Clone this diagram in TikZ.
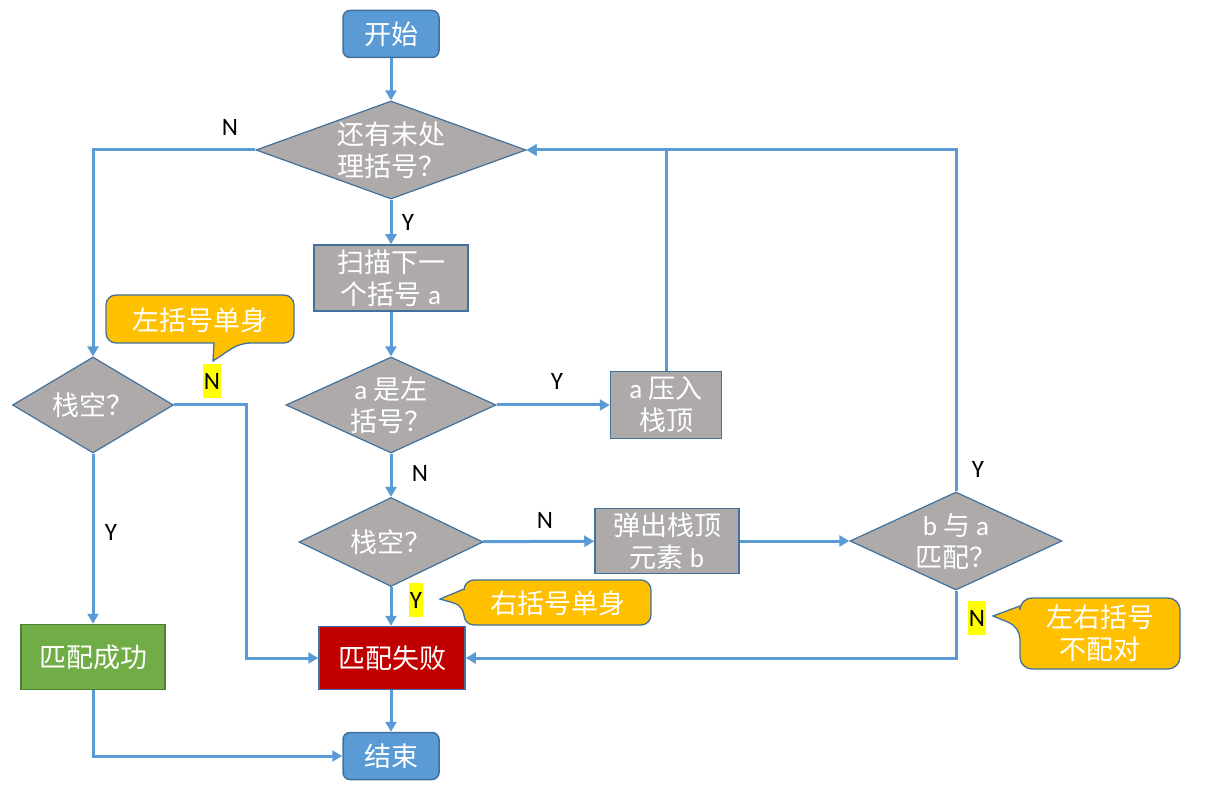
\documentclass[tikz,border=0pt]{standalone}
\usepackage{fontspec}
\setmainfont{Carlito}
\newfontfamily\cjk{Noto Sans CJK SC}
\usetikzlibrary{shapes.geometric,arrows.meta,calc}
\definecolor{lineblue}{HTML}{5B9BD5}
\definecolor{bord}{HTML}{41719C}
\definecolor{gfill}{HTML}{AEAAAA}
\definecolor{rfill}{HTML}{C00000}
\definecolor{grfill}{HTML}{70AD47}
\definecolor{grbord}{HTML}{507E32}
\definecolor{ofill}{HTML}{FFC000}
\definecolor{hl}{HTML}{FFFF00}
\begin{document}
\begin{tikzpicture}[x=1pt,y=-1pt,
  every node/.style={font=\fontsize{27}{32}\selectfont},
  proc/.style={draw=bord,line width=1.5pt,fill=gfill,text=white,inner sep=0pt,align=center},
  term/.style={draw=bord,line width=1.5pt,fill=lineblue,text=white,rounded corners=7pt,inner sep=0pt,minimum width=96pt,minimum height=47pt},
  dec/.style={draw=bord,line width=1.2pt,fill=gfill,diamond,inner sep=0pt},
  dtext/.style={text=white,align=center,inner sep=0pt},
  lab/.style={font=\fontsize{25}{27}\selectfont,inner sep=1pt},
  hlab/.style={font=\fontsize{25}{27}\selectfont,fill=hl,inner xsep=1pt,inner ysep=0pt,minimum height=34pt},
  callout/.style={draw=bord,line width=1.3pt,fill=ofill},
  ctext/.style={text=white,align=center,inner sep=0pt},
  arr/.style={draw=lineblue,line width=3pt,-{Triangle[length=10pt,width=11pt]}},
  ln/.style={draw=lineblue,line width=3pt}
]
\useasboundingbox (0,0) rectangle (1219,802);
% nodes
\node[term] (start) at (391,34) {\cjk 开始};
\node[dec,minimum width=270pt,minimum height=98pt] (d1) at (391,150) {};
\node[dtext] at (391,150) {\cjk 还有未处\\\cjk 理括号？};
\node[proc,minimum width=154pt,minimum height=66pt] (scan) at (391,278) {{\cjk 扫描下一}\\{\cjk 个括号} a};
\node[dec,minimum width=210pt,minimum height=96pt] (d2) at (391,405) {};
\node[dtext] at (391,405) {a {\cjk 是左}\\\cjk 括号？};
\node[proc,minimum width=111pt,minimum height=67pt] (push) at (666,405) {a {\cjk 压入}\\\cjk 栈顶};
\node[dec,minimum width=184pt,minimum height=89pt] (d3) at (391,542) {};
\node[dtext] at (391,542) {\cjk 栈空？};
\node[proc,minimum width=144pt,minimum height=65pt] (pop) at (667,541) {{\cjk 弹出栈顶}\\{\cjk 元素} b};
\node[dec,minimum width=212pt,minimum height=98pt] (d4) at (956,541) {};
\node[dtext] at (956,541) {b {\cjk 与} a\\\cjk 匹配？};
\node[dec,minimum width=161pt,minimum height=96pt] (ld) at (93,405) {};
\node[dtext] at (93,405) {\cjk 栈空？};
\node[proc,fill=rfill,minimum width=146pt,minimum height=63pt] (fail) at (392,658) {\cjk 匹配失败};
\node[proc,fill=grfill,draw=grbord,minimum width=144pt,minimum height=65pt] (succ) at (93,657) {\cjk 匹配成功};
\node[term] (end) at (391,756) {\cjk 结束};
% coordinates
\coordinate (c1) at (246,405);
% connectors
\draw[arr] (start) -- (d1);
\draw[arr] (d1) -- (scan);
\draw[arr] (scan) -- (d2);
\draw[arr] (d2) -- (push);
\draw[arr] (d2) -- (d3);
\draw[arr] (d3) -- (pop);
\draw[arr] (pop) -- (d4);
\draw[arr] (d3) -- (d3 |- fail.north);
\draw[arr] (fail.south -| end.north) -- (end);
\draw[arr] (push.north) |- (d1.east);
\draw[arr] (d4.north) |- (d1.east);
\draw[arr] (d4.south) |- (fail.east);
\draw[arr] (d1.west) -| (ld.north);
\draw[arr] (ld) -- (succ);
\draw[arr] (ld.east) -- (c1) |- (fail.west);
\draw[arr] (succ.south) |- (end.west);
% labels
\node[lab] (n1) at (230,127) {N};
\node[lab] (y1) at (408,222) {Y};
\node[lab] (y2) at (557,381) {Y};
\node[lab] (n2) at (420,473) {N};
\node[lab] (n3) at (545,520) {N};
\node[lab] (y3) at (978,469) {Y};
\node[lab] (y4) at (111,532) {Y};
\node[hlab] (n4) at (212,381) {N};
\node[hlab] (y5) at (416,600) {Y};
\node[hlab] (n5) at (977,618) {N};
% callouts
\path[callout] (200,295) [rounded corners=10pt] -- (294,295) -- (294,343) -- (240,343) [sharp corners] -- (213,361) -- (214,343) [rounded corners=10pt] -- (106,343) -- (106,295) -- cycle;
\node[ctext] (c1t) at (200,320) {\cjk 左括号单身};
\path[callout] (560,580) [rounded corners=10pt] -- (651,580) -- (651,625) -- (464,625) -- (464,606) [sharp corners] -- (440,599) -- (464,589) [rounded corners=10pt] -- (464,580) -- cycle;
\node[ctext] (c2t) at (558,603) {\cjk 右括号单身};
\path[callout] (1100,598) [rounded corners=12pt] -- (1180,598) -- (1180,669) -- (1020,669) -- (1020,627) [sharp corners] -- (993,616) -- (1020,606) [rounded corners=12pt] -- (1020,598) -- cycle;
\node[ctext] (c3t) at (1100,633) {\cjk 左右括号\\\cjk 不配对};
\end{tikzpicture}
\end{document}
